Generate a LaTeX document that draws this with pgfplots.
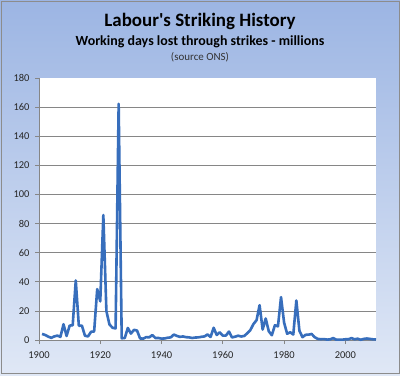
\documentclass[border=0pt]{standalone}
\usepackage{fontspec}
\setmainfont{Carlito}[Ligatures=TeXOff]
\usepackage{pgfplots}
\pgfplotsset{compat=1.18}
\definecolor{bgtop}{RGB}{156,181,227}
\definecolor{bgbot}{RGB}{224,232,246}
\definecolor{lineblue}{RGB}{55,110,188}
\definecolor{gridc}{RGB}{134,134,134}
\definecolor{bordc}{RGB}{140,140,140}
\begin{document}
\begin{tikzpicture}
\shade[top color=bgtop,bottom color=bgbot] (0bp,0bp) rectangle (400bp,376bp);
\draw[bordc,line width=0.8bp] (1bp,2.5bp) rectangle (399bp,375bp);
\node[anchor=base,font=\bfseries\fontsize{19}{21}\selectfont] at (200bp,349bp) {Labour's Striking History};
\node[anchor=base,font=\bfseries\fontsize{14}{16}\selectfont] at (200bp,330.5bp) {Working days lost through strikes - millions};
\node[anchor=base,font=\fontsize{11}{13}\selectfont,text=black!80] at (200bp,315bp) {(source ONS)};
\begin{axis}[
  at={(39bp,36bp)}, anchor=south west, scale only axis,
  width=337bp, height=262bp,
  xmin=1900, xmax=2010, ymin=0, ymax=180,
  xtick={1900,1920,...,2000},
  ytick={0,20,...,160},
  extra y ticks={180}, extra y tick style={grid=none},
  ymajorgrids, grid style={gridc,line width=0.7bp},
  axis lines*=left,
  axis line style={gridc,line width=0.8bp},
  tick align=outside, major tick length=4bp,
  tick style={gridc,line width=0.7bp},
  minor tick num=0,
  axis background/.style={fill=white},
  /pgf/number format/1000 sep={},
  /pgf/number format/assume math mode=true,
  ticklabel style={font=\fontsize{10.5}{12}\selectfont, text=black!85},
  yticklabel style={xshift=-2bp},
  xticklabel style={yshift=-4bp},
  clip=false,
]
\addplot[lineblue, line width=2.6bp, line join=round] table[x=year,y=days] {
year days
1901 4.14
1902 3.48
1903 2.34
1904 1.48
1905 2.47
1906 3.02
1907 2.16
1908 10.83
1909 2.77
1910 9.87
1911 10.16
1912 40.89
1913 9.80
1914 9.88
1915 2.95
1916 2.45
1917 5.65
1918 5.88
1919 34.97
1920 26.57
1921 85.87
1922 19.85
1923 10.67
1924 8.42
1925 7.95
1926 162.23
1927 1.17
1928 1.39
1929 8.29
1930 4.40
1931 6.98
1932 6.49
1933 1.07
1934 0.96
1935 1.96
1936 1.83
1937 3.41
1938 1.33
1939 1.36
1940 0.94
1941 1.08
1942 1.53
1943 1.81
1944 3.71
1945 2.84
1946 2.16
1947 2.43
1948 1.94
1949 1.81
1950 1.39
1951 1.69
1952 1.79
1953 2.18
1954 2.46
1955 3.78
1956 2.08
1957 8.41
1958 3.46
1959 5.27
1960 3.02
1961 3.05
1962 5.80
1963 1.76
1964 2.28
1965 2.93
1966 2.40
1967 2.79
1968 4.69
1969 6.85
1970 10.98
1971 13.55
1972 23.91
1973 7.20
1974 14.75
1975 6.01
1976 3.28
1977 10.14
1978 9.41
1979 29.47
1980 11.96
1981 4.27
1982 5.31
1983 3.75
1984 27.14
1985 6.40
1986 1.92
1987 3.55
1988 3.70
1989 4.13
1990 1.90
1991 0.76
1992 0.53
1993 0.65
1994 0.28
1995 0.42
1996 1.30
1997 0.24
1998 0.28
1999 0.24
2000 0.50
2001 0.53
2002 1.32
2003 0.50
2004 0.90
2005 0.16
2006 0.75
2007 1.04
2008 0.76
2009 0.46
2010 0.37
};
\end{axis}
\end{tikzpicture}
\end{document}
